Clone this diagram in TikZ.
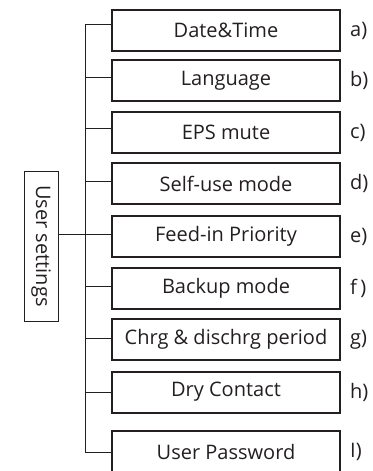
\documentclass[tikz,border=0pt]{standalone}
\usepackage{fontspec}
\setmainfont{Open Sans}
\usetikzlibrary{positioning}
\begin{document}
\begin{tikzpicture}[x=1pt, y=-1pt, font=\fontsize{20}{24}\selectfont]

	% ==========================================
	% 1. COLOURS AND STYLES
	% ==========================================
	\definecolor{inkcol}{RGB}{35, 31, 32}      % near-black lines and text
	\tikzset{
		itembox/.style={draw=inkcol, line width=2pt, minimum width=228pt, minimum height=41pt, inner sep=0pt, text=inkcol},
		rootbox/.style={draw=inkcol, line width=0.8pt, minimum width=150pt, minimum height=34pt, inner sep=0pt, text=inkcol, rotate=-90},
		itemlab/.style={anchor=west, inner sep=0pt, text=inkcol},
		wire/.style={draw=inkcol, line width=0.8pt}
	}

	% page size of the reference
	\useasboundingbox (0,0) rectangle (372,471);

	% ==========================================
	% 2. ROOT BOX (vertical text)
	% ==========================================
	\node[rootbox] (root) at (41,246) {User settings};

	% ==========================================
	% 3. SUB-MENU BOXES, LABELS AND BRANCHES
	% ==========================================
	\coordinate (spine-top) at (85,24);
	\coordinate (spine-bot) at (85,452);
	\draw[wire] (spine-top) -- (spine-bot);
	\coordinate (root-tap) at (85,234);
	\draw[wire] (root.north |- root-tap) -- (root-tap);

	\foreach \name/\txt/\lab/\yc/\yw in {
		a/Date\&Time/a)/30.5/24,
		b/Language/b)/80.5/77,
		c/EPS mute/c)/132.5/128,
		d/Self-use mode/d)/183.5/181,
		e/Feed-in Priority/e)/236.5/234,
		f/Backup mode/f\,)/288/286,
		g/Chrg \& dischrg period/g)/339.5/338,
		h/Dry Contact/h)/392/392,
		i/User Password/I)/451.5/452} {
		\node[itembox] (item-\name) at (226,\yc) {\txt};
		\node[itemlab, right=9pt of item-\name.east] (lab-\name) {\lab};
		\coordinate (tap-\name) at (85,\yw);
		\draw[wire] (tap-\name) -- (tap-\name -| item-\name.west);
	}

\end{tikzpicture}
\end{document}
